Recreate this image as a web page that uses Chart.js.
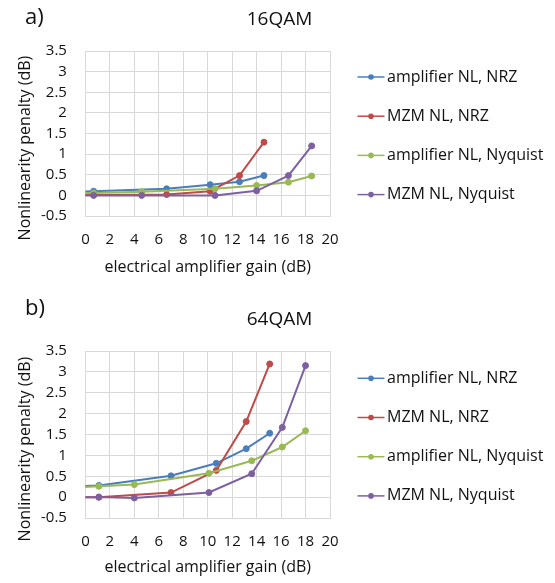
<!DOCTYPE html>
<html>
<head>
<meta charset="utf-8">
<script src="https://cdn.jsdelivr.net/npm/chart.js@4.4.1/dist/chart.umd.min.js"></script>
<style>
  html, body { margin: 0; padding: 0; background: #fff; }
  body { width: 555px; height: 583px; position: relative; overflow: hidden; }
  .panel { position: absolute; left: 0; width: 555px; }
  #panelA { top: 0; height: 290px; }
  #panelB { top: 290px; height: 293px; }
</style>
</head>
<body>
<div class="panel" id="panelA"><canvas id="chartA"></canvas></div>
<div class="panel" id="panelB"><canvas id="chartB"></canvas></div>
<script>
// series names, same order in both panels
const seriesNames = ["amplifier NL, NRZ", "MZM NL, NRZ", "amplifier NL, Nyquist", "MZM NL, Nyquist"];
const seriesColors = ["#4a7ebb", "#be4b48", "#98b954", "#7d60a0"];

// a) 16QAM  (first point sits left of the axis, only its line shows)
const gainNrz16 = [-1, 0.67, 6.64, 10.2, 12.6, 14.6];
const ampNrz16 = [0.08, 0.1, 0.16, 0.26, 0.33, 0.48];
const mzmNrz16 = [0.01, 0.01, 0.02, 0.1, 0.48, 1.29];
const gainNyq16 = [-1, 0.67, 4.6, 10.6, 14.0, 16.6, 18.5];
const ampNyq16 = [0.05, 0.06, 0.09, 0.16, 0.24, 0.32, 0.47];
const mzmNyq16 = [0, 0, 0, 0, 0.11, 0.48, 1.2];

// b) 64QAM
const gainNrz64 = [-1, 1.1, 7.0, 10.7, 13.15, 15.07];
const ampNrz64 = [0.25, 0.28, 0.51, 0.81, 1.16, 1.53];
const mzmNrz64 = [0, 0, 0.11, 0.64, 1.81, 3.19];
const gainNyq64 = [-1, 1.1, 4.0, 10.1, 13.6, 16.1, 18.0];
const ampNyq64 = [0.23, 0.26, 0.3, 0.57, 0.87, 1.2, 1.59];
const mzmNyq64 = [0, 0, -0.02, 0.11, 0.56, 1.67, 3.15];

const xRange = [0, 20, 2];
const yRange = [-0.5, 3.5, 0.5];

const family = "'Open Sans', sans-serif";
const textColor = "#111";
const gridColor = "#d9d9d9";

Chart.defaults.font.family = family;
Chart.defaults.color = textColor;

const pointsFor = (xs, ys) => xs.map((x, i) => ({ x: x, y: ys[i] }));

const datasetsFor = function (series) {
  return series.map((s, idx) => ({
    label: seriesNames[idx],
    data: pointsFor(s[0], s[1]),
    borderColor: seriesColors[idx],
    backgroundColor: seriesColors[idx],
    borderWidth: 2,
    pointRadius: 3,
    pointBorderWidth: 1,
    pointHoverRadius: 3,
    order: series.length - idx,
  }));
};

// panel tag, heading and the line+marker legend on the right
const panelText = {
  id: "panelText",
  afterDraw(chart, args, opts) {
    const ctx = chart.ctx;
    ctx.save();
    ctx.textBaseline = "middle";
    ctx.fillStyle = textColor;
    ctx.textAlign = "left";
    ctx.font = `22px ${family}`;
    ctx.fillText(opts.tag, 25, opts.tagY);
    ctx.textAlign = "center";
    ctx.font = `19px ${family}`;
    ctx.fillText(opts.heading, 279.5, opts.headingY);
    ctx.textAlign = "left";
    ctx.font = `16px ${family}`;
    chart.data.datasets.forEach((ds, i) => {
      const y = opts.legendY + i * 39.2;
      ctx.strokeStyle = ds.borderColor;
      ctx.lineWidth = 1.5;
      ctx.beginPath();
      ctx.moveTo(357.5, y);
      ctx.lineTo(384.5, y);
      ctx.stroke();
      ctx.fillStyle = ds.borderColor;
      ctx.beginPath();
      ctx.arc(371, y, 2.8, 0, Math.PI * 2);
      ctx.fill();
      ctx.fillStyle = textColor;
      ctx.fillText(ds.label, 387, y);
    });
    ctx.restore();
  },
};

// tick marks are kept but transparent: their length sets the label gap
const configFor = function (series, text, frame) {
  return {
    type: "line",
    data: { datasets: datasetsFor(series) },
    plugins: [panelText],
    options: {
      responsive: true,
      maintainAspectRatio: false,
      animation: false,
      layout: { padding: { top: frame.top, right: 225, bottom: frame.bottom, left: 0 } },
      plugins: {
        legend: { display: false },
        title: { display: false },
        tooltip: { enabled: false },
        panelText: text,
      },
      scales: {
        x: {
          type: "linear",
          min: xRange[0],
          max: xRange[1],
          ticks: {
            stepSize: xRange[2],
            autoSkip: false,
            maxRotation: 0,
            minRotation: 0,
            padding: 0,
            color: textColor,
            font: { size: 15 },
          },
          grid: { color: gridColor, tickLength: 15, tickColor: "rgba(0,0,0,0)" },
          border: { color: gridColor },
          title: {
            display: true,
            text: "electrical amplifier gain (dB)",
            color: textColor,
            font: { size: 16 },
            padding: { top: frame.xTitleGap, bottom: 0 },
          },
        },
        y: {
          type: "linear",
          min: yRange[0],
          max: yRange[1],
          ticks: {
            stepSize: yRange[2],
            autoSkip: false,
            padding: 0,
            color: textColor,
            font: { size: 15 },
            callback: (value) => String(Number(value.toFixed(1))),
          },
          grid: { color: gridColor, tickLength: 18.5, tickColor: "rgba(0,0,0,0)" },
          border: { color: gridColor },
          title: {
            display: true,
            text: "Nonlinearity penalty (dB)" + " ".repeat(7),
            color: textColor,
            font: { size: 16 },
            padding: { top: 15.9, bottom: 5.9 },
          },
        },
      },
    },
  };
};

const init = function () {
  new Chart(
    document.getElementById("chartA"),
    configFor(
      [[gainNrz16, ampNrz16], [gainNrz16, mzmNrz16], [gainNyq16, ampNyq16], [gainNyq16, mzmNyq16]],
      { tag: "a)", tagY: 18, heading: "16QAM", headingY: 20, legendY: 77 },
      { top: 51, bottom: 12.7, xTitleGap: 9.1 },
    ),
  );
  new Chart(
    document.getElementById("chartB"),
    configFor(
      [[gainNrz64, ampNrz64], [gainNrz64, mzmNrz64], [gainNyq64, ampNyq64], [gainNyq64, mzmNyq64]],
      { tag: "b)", tagY: 19, heading: "64QAM", headingY: 30, legendY: 88.3 },
      { top: 61, bottom: 5.7, xTitleGap: 7.1 },
    ),
  );
};

if (document.readyState !== "loading") init();
else document.addEventListener("DOMContentLoaded", init);
</script>
</body>
</html>
